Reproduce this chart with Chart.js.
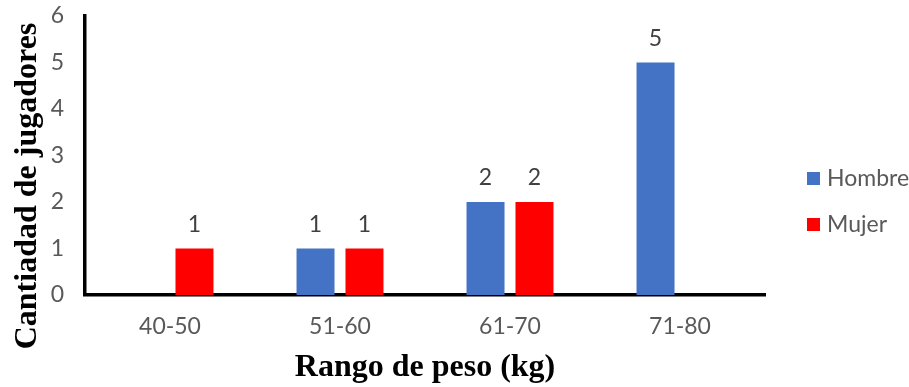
<!DOCTYPE html>
<html lang="es">
<head>
<meta charset="utf-8">
<title>Cantidad de jugadores por rango de peso</title>
<script src="https://cdn.jsdelivr.net/npm/chart.js@4.4.1/dist/chart.umd.min.js"></script>
<style>
  html, body { margin: 0; padding: 0; background: #fff; }
  #wrap { position: relative; width: 909px; height: 387px; }
</style>
</head>
<body>
<div id="wrap"><canvas id="peso-chart"></canvas></div>
<script>
"use strict";

// ── Data ────────────────────────────────────────────────────────────────────
const RANGOS  = ["40-50", "51-60", "61-70", "71-80"];
const HOMBRES = [null, 1, 2, 5];
const MUJERES = [1, 1, 2, null];
const Y_TICKS = [0, 1, 2, 3, 4, 5, 6];

const BLUE = "#4472C4";
const RED  = "#FF0000";
const GREY = "#595959";
const SANS = "Lato, 'Open Sans', sans-serif";
const SERIF = "'Liberation Serif', 'Times New Roman', serif";
const FONT_PX = 23;

// ── Value labels above each bar ─────────────────────────────────────────────
const barLabels = {
  id: "barLabels",
  afterDatasetsDraw(chart) {
    const { ctx } = chart;
    ctx.save();
    ctx.font = `${FONT_PX}px ${SANS}`;
    ctx.fillStyle = "#404040";
    ctx.textAlign = "center";
    ctx.textBaseline = "alphabetic";
    chart.data.datasets.forEach((ds, i) => {
      chart.getDatasetMeta(i).data.forEach((bar, j) => {
        const v = ds.data[j];
        if (v == null) return;
        ctx.fillText(String(v), bar.x, bar.y - 17);
      });
    });
    ctx.restore();
  },
};

// ── Y title (rotated) + legend on the right ─────────────────────────────────
const sideText = {
  id: "sideText",
  afterDraw(chart) {
    const { ctx } = chart;
    ctx.save();
    ctx.translate(28, 186);
    ctx.rotate(-Math.PI / 2);
    ctx.font = `bold 32px ${SERIF}`;
    ctx.fillStyle = "#000";
    ctx.textAlign = "center";
    ctx.textBaseline = "middle";
    ctx.fillText("Cantiadad de jugadores", 0, 0);
    ctx.restore();

    ctx.save();
    ctx.font = `${FONT_PX}px ${SANS}`;
    ctx.textBaseline = "middle";
    ctx.textAlign = "left";
    chart.data.datasets.forEach((ds, i) => {
      const cy = 179 + i * 46;
      ctx.fillStyle = ds.backgroundColor;
      ctx.fillRect(807, cy - 7, 13, 13);
      ctx.fillStyle = GREY;
      ctx.fillText(ds.label, 827, cy);
    });
    ctx.restore();
  },
};

// ── Chart ───────────────────────────────────────────────────────────────────
const ctx = document.getElementById("peso-chart").getContext("2d");
new Chart(ctx, {
  type: "bar",
  data: {
    labels: RANGOS,
    datasets: [
      { label: "Hombre", data: HOMBRES, backgroundColor: BLUE },
      { label: "Mujer",  data: MUJERES, backgroundColor: RED },
    ],
  },
  options: {
    responsive: true,
    maintainAspectRatio: false,
    devicePixelRatio: 1,
    animation: false,
    categoryPercentage: 0.576,
    barPercentage: 0.776,
    layout: { padding: { top: 16, right: 144, left: 0, bottom: 0 } },
    scales: {
      x: {
        grid: { display: false, drawTicks: false },
        border: { display: true, color: "#000", width: 3.5 },
        ticks: { color: GREY, font: { family: SANS, size: FONT_PX }, padding: 18 },
        title: {
          display: true,
          text: "Rango de peso (kg)",
          color: "#000",
          font: { family: SERIF, size: 32, weight: "bold" },
          padding: { top: 0, bottom: 0 },
        },
        afterFit: s => { s.height = 92; s.paddingLeft = 0; s.paddingRight = 0; },
      },
      y: {
        min: 0,
        max: 6,
        afterBuildTicks: s => { s.ticks = Y_TICKS.map(v => ({ value: v })); },
        grid: { display: false, drawTicks: false },
        border: { display: true, color: "#000", width: 3.5 },
        ticks: { color: GREY, font: { family: SANS, size: FONT_PX }, padding: 21 },
        afterFit: s => { s.width = 85; s.paddingTop = 0; s.paddingBottom = 0; },
      },
    },
    plugins: {
      legend: { display: false },
      tooltip: { enabled: false },
    },
  },
  plugins: [barLabels, sideText],
});
</script>
</body>
</html>
